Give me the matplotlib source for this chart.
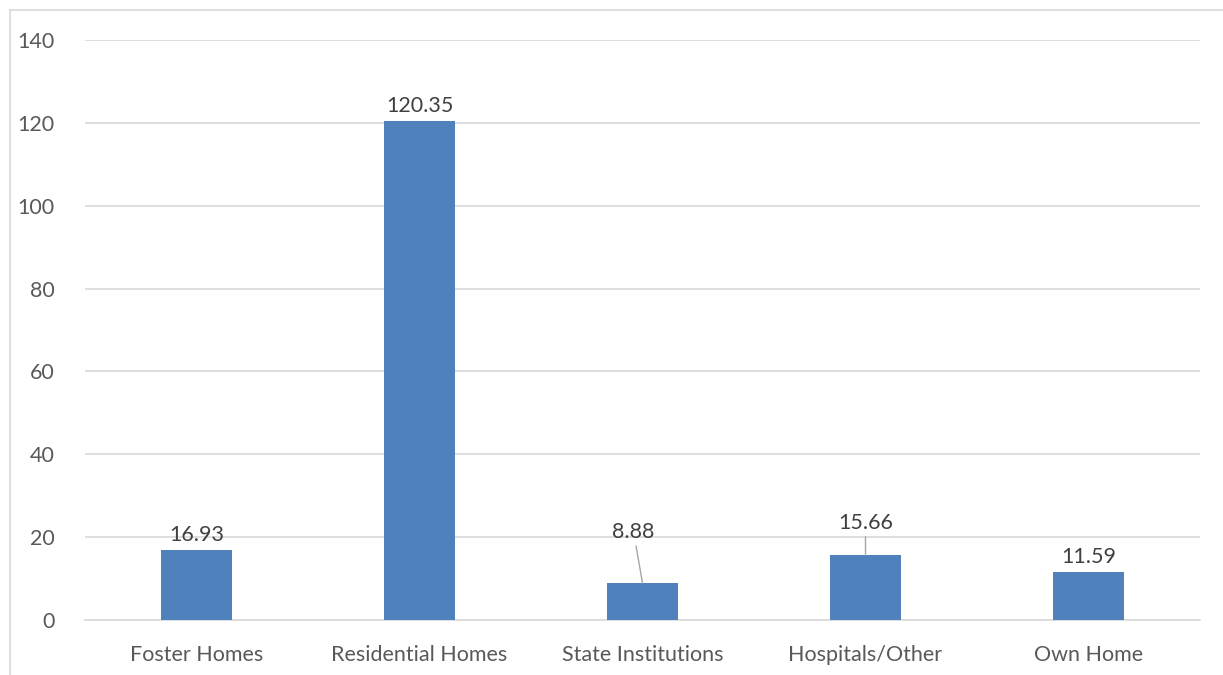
import matplotlib
matplotlib.use("Agg")
from matplotlib import pyplot as plt
from matplotlib.lines import Line2D

categories = ["Foster Homes", "Residential Homes", "State Institutions", "Hospitals/Other", "Own Home"]
values = [16.93, 120.35, 8.88, 15.66, 11.59]
labels = ["16.93", "120.35", "8.88", "15.66", "11.59"]

plt.rcParams["font.family"] = ["Lato", "DejaVu Sans"]
FS = 15.5

fig = plt.figure(figsize=(12.23, 6.75), dpi=100)
ax = fig.add_axes([85 / 1223, 55 / 675, 1115 / 1223, 580 / 675])

x = range(len(categories))
bars = ax.bar(x, values, width=0.315, color="#4f81bd", zorder=3)

ax.set_xlim(-0.5, len(categories) - 0.5)
ax.set_ylim(0, 140)
ax.set_yticks(range(0, 141, 20))
ax.set_xticks(list(x))
ax.set_xticklabels(categories)
ax.grid(axis="y", color="#d9d9d9", linewidth=1.2, zorder=0)
for s in ax.spines.values():
    s.set_visible(False)
ax.spines["bottom"].set_visible(True)
ax.spines["bottom"].set_color("#d9d9d9")
ax.spines["bottom"].set_linewidth(1.2)
ax.tick_params(length=0, labelsize=FS, colors="#595959")
ax.tick_params(axis="y", pad=22)
ax.tick_params(axis="x", pad=18)

# data labels; two of them are pushed up with a leader line
offsets = {2: (-0.04, 21.3), 3: (0.0, 23.5)}
for i, (bar, lab) in enumerate(zip(bars, labels)):
    cx = bar.get_x() + bar.get_width() / 2.0
    h = bar.get_height()
    if i in offsets:
        dx, ly = offsets[i]
        ax.annotate(lab, xy=(cx, h), xytext=(cx + dx, ly), ha="center", va="center",
                    fontsize=FS, color="#404040",
                    arrowprops=dict(arrowstyle="-", color="#a6a6a6", lw=1,
                                    shrinkA=1, shrinkB=0))
    else:
        ax.text(cx, h + 1.2, lab, ha="center", va="bottom", fontsize=FS, color="#404040")

# chart area border (top and left edges visible)
fig.add_artist(Line2D([10 / 1223, 1], [1 - 10 / 675, 1 - 10 / 675], transform=fig.transFigure,
                      color="#d9d9d9", linewidth=1.2))
fig.add_artist(Line2D([10 / 1223, 10 / 1223], [0, 1 - 10 / 675], transform=fig.transFigure,
                      color="#d9d9d9", linewidth=1.2))

fig.savefig("out.png", dpi=100)
